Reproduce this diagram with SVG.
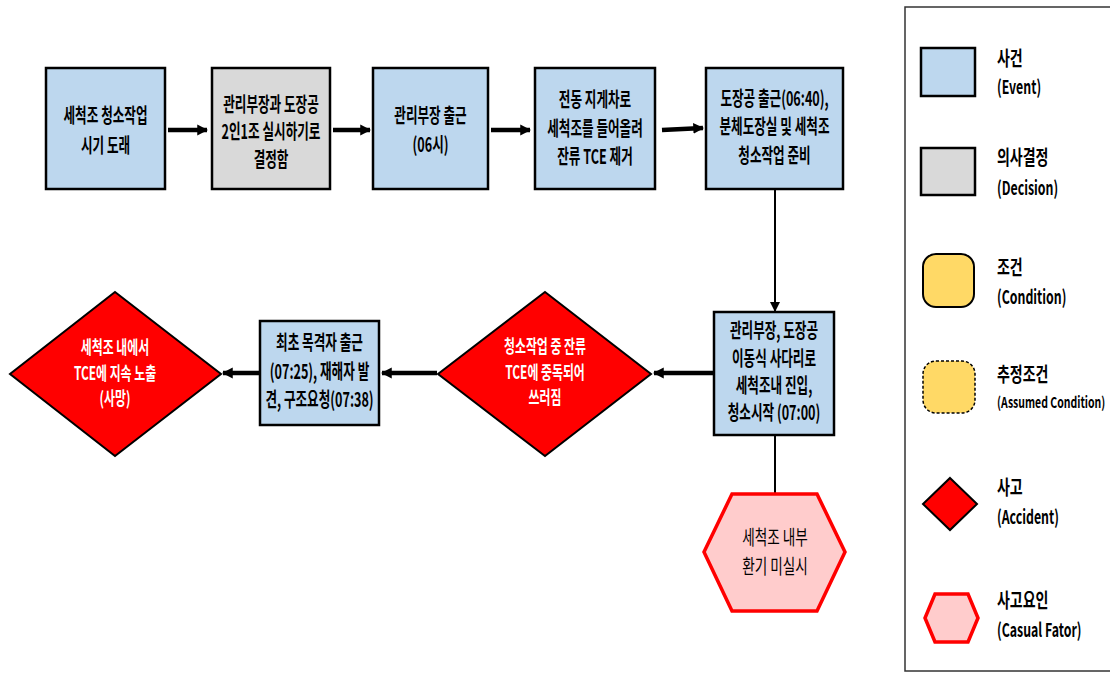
<svg xmlns="http://www.w3.org/2000/svg" width="1110" height="673" viewBox="0 0 1110 673">
<defs>
<style>
.ev{fill:#BDD7EE;stroke:#000;stroke-width:2.5}
.de{fill:#D9D9D9;stroke:#000;stroke-width:2.5}
.ac{fill:#FF0000;stroke:#000;stroke-width:2}
.cf{fill:#FFCCCC;stroke:#FF0000;stroke-width:3.5}
.t{font-family:"Noto Sans CJK KR","Noto Sans",sans-serif;font-size:20px;font-weight:bold;fill:#000;text-anchor:middle}
.tw{font-family:"Noto Sans CJK KR","Noto Sans",sans-serif;font-size:18px;font-weight:bold;fill:#fff;text-anchor:middle}
.tn{font-family:"Noto Sans CJK KR","Noto Sans",sans-serif;font-size:20px;font-weight:normal;fill:#000;text-anchor:middle}
.lg{font-family:"Noto Sans CJK KR","Noto Sans",sans-serif;font-size:20px;font-weight:bold;fill:#000}
.lge{font-family:"Noto Sans CJK KR","Noto Sans",sans-serif;font-size:19px;font-weight:bold;fill:#000}
.thick{stroke:#000;stroke-width:4.5;fill:none}
.thin{stroke:#000;stroke-width:2;fill:none}
</style>
<marker id="ah" viewBox="0 0 10 10" refX="9" refY="5" markerWidth="2.4" markerHeight="2.8" orient="auto" markerUnits="strokeWidth">
<path d="M0,0 L10,5 L0,10 z" fill="#000"/>
</marker>
<marker id="ahs" viewBox="0 0 10 10" refX="9" refY="5" markerWidth="5" markerHeight="5" orient="auto" markerUnits="strokeWidth">
<path d="M0,0 L10,5 L0,10 z" fill="#000"/>
</marker>
</defs>
<rect width="1110" height="673" fill="#fff"/>

<g id="connectors">
<line class="thick" x1="168" y1="130" x2="207" y2="130" marker-end="url(#ah)"/>
<line class="thick" x1="333" y1="130" x2="370" y2="130" marker-end="url(#ah)"/>
<line class="thick" x1="491" y1="130" x2="530" y2="130" marker-end="url(#ah)"/>
<line class="thick" x1="662" y1="130" x2="703" y2="128" marker-end="url(#ah)"/>
<line class="thin" x1="775" y1="189" x2="775" y2="311" marker-end="url(#ahs)"/>
<line class="thick" x1="713" y1="373" x2="654" y2="373" marker-end="url(#ah)"/>
<line class="thick" x1="437" y1="373" x2="382" y2="373" marker-end="url(#ah)"/>
<line class="thick" x1="259" y1="373" x2="223" y2="373" marker-end="url(#ah)"/>
<line class="thin" x1="775" y1="436" x2="775" y2="493"/>
</g>

<g id="n1">
<rect class="ev" x="46" y="68" width="119" height="121"/>
<text class="t" transform="translate(105.5,0) scale(0.63,1)"><tspan x="0" y="123">세척조 청소작업</tspan><tspan x="0" y="153">시기 도래</tspan></text>
</g>
<g id="n2">
<rect class="de" x="212" y="68" width="118" height="121"/>
<text class="t" transform="translate(271,0) scale(0.63,1)"><tspan x="0" y="112">관리부장과 도장공</tspan><tspan x="0" y="139.5">2인1조 실시하기로</tspan><tspan x="0" y="167">결정함</tspan></text>
</g>
<g id="n3">
<rect class="ev" x="373" y="68" width="115" height="121"/>
<text class="t" transform="translate(430.5,0) scale(0.63,1)"><tspan x="0" y="123">관리부장 출근</tspan><tspan x="0" y="152">(06시)</tspan></text>
</g>
<g id="n4">
<rect class="ev" x="535" y="68" width="120" height="121"/>
<text class="t" transform="translate(595,0) scale(0.63,1)"><tspan x="0" y="107">전동 지게차로</tspan><tspan x="0" y="136">세척조를 들어올려</tspan><tspan x="0" y="164">잔류 TCE 제거</tspan></text>
</g>
<g id="n5">
<rect class="ev" x="706" y="68" width="137" height="121"/>
<text class="t" transform="translate(774.5,0) scale(0.63,1)"><tspan x="0" y="106">도장공 출근(06:40),</tspan><tspan x="0" y="134">분체도장실 및 세척조</tspan><tspan x="0" y="163">청소작업 준비</tspan></text>
</g>
<g id="n6">
<rect class="ev" x="714" y="312" width="120" height="123"/>
<text class="t" transform="translate(774,0) scale(0.63,1)"><tspan x="0" y="338">관리부장, 도장공</tspan><tspan x="0" y="366">이동식 사다리로</tspan><tspan x="0" y="393">세척조내 진입,</tspan><tspan x="0" y="420">청소시작 (07:00)</tspan></text>
</g>
<g id="n7">
<polygon class="ac" points="545,292 651,374 545,456 438,374"/>
<text class="tw" transform="translate(545,0) scale(0.66,1)"><tspan x="0" y="353">청소작업 중 잔류</tspan><tspan x="0" y="379">TCE에 중독되어</tspan><tspan x="0" y="404">쓰러짐</tspan></text>
</g>
<g id="n8">
<rect class="ev" x="260" y="321" width="119" height="104"/>
<text class="t" transform="translate(319.5,0) scale(0.63,1)"><tspan x="0" y="350">최초 목격자 출근</tspan><tspan x="0" y="379">(07:25), 재해자 발</tspan><tspan x="0" y="407">견, 구조요청(07:38)</tspan></text>
</g>
<g id="n9">
<polygon class="ac" points="115,292 221,374 115,456 10,374"/>
<text class="tw" transform="translate(115,0) scale(0.66,1)"><tspan x="0" y="354">세척조 내에서</tspan><tspan x="0" y="380">TCE에 지속 노출</tspan><tspan x="0" y="405">(사망)</tspan></text>
</g>
<g id="n10">
<polygon class="cf" points="732,494 817,494 845,552 817,611 732,611 704,552"/>
<text class="tn" transform="translate(775,0) scale(0.68,1)"><tspan x="0" y="545">세척조 내부</tspan><tspan x="0" y="574">환기 미실시</tspan></text>
</g>

<g id="legend">
<rect x="905" y="7" width="215" height="664" fill="#fff" stroke="#333" stroke-width="1.5"/>
<rect class="ev" x="921" y="48" width="54" height="48" stroke-width="2"/>
<text class="lg" transform="translate(997,0) scale(0.7,1)"><tspan x="0" y="66">사건</tspan></text>
<text class="lge" transform="translate(997,0) scale(0.65,1)"><tspan x="0" y="94">(Event)</tspan></text>
<rect class="de" x="921" y="148" width="54" height="47" stroke-width="2"/>
<text class="lg" transform="translate(997,0) scale(0.7,1)"><tspan x="0" y="165">의사결정</tspan></text>
<text class="lge" transform="translate(997,0) scale(0.65,1)"><tspan x="0" y="195">(Decision)</tspan></text>
<rect x="923" y="254" width="51" height="53" rx="13" fill="#FFD966" stroke="#000" stroke-width="2"/>
<text class="lg" transform="translate(997,0) scale(0.7,1)"><tspan x="0" y="275">조건</tspan></text>
<text class="lge" transform="translate(997,0) scale(0.65,1)"><tspan x="0" y="304">(Condition)</tspan></text>
<rect x="923" y="361" width="52" height="52" rx="13" fill="#FFD966" stroke="#000" stroke-width="1.5" stroke-dasharray="3,2"/>
<text class="lg" transform="translate(997,0) scale(0.7,1)"><tspan x="0" y="382">추정조건</tspan></text>
<text class="lge" transform="translate(997,0) scale(0.7,1)" style="font-size:15px"><tspan x="0" y="408">(Assumed Condition)</tspan></text>
<polygon class="ac" points="950,478 977,504 950,530 923,504"/>
<text class="lg" transform="translate(997,0) scale(0.7,1)"><tspan x="0" y="495">사고</tspan></text>
<text class="lge" transform="translate(997,0) scale(0.65,1)"><tspan x="0" y="524">(Accident)</tspan></text>
<polygon class="cf" points="935,594 968,594 978,618 968,642 935,642 925,618" stroke-width="3"/>
<text class="lg" transform="translate(997,0) scale(0.7,1)"><tspan x="0" y="608">사고요인</tspan></text>
<text class="lge" transform="translate(997,0) scale(0.65,1)"><tspan x="0" y="637">(Casual Fator)</tspan></text>
</g>
</svg>
